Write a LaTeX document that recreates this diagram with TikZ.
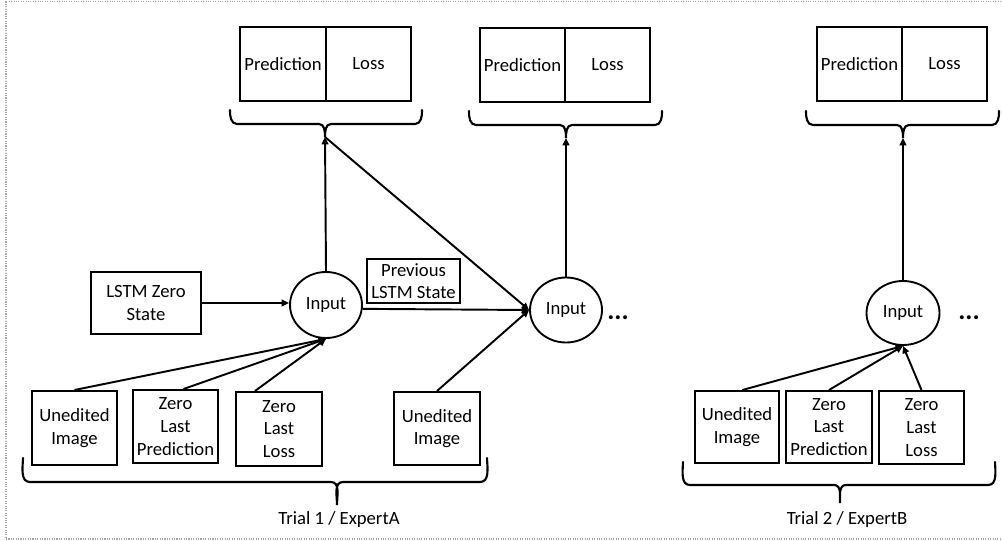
\documentclass[tikz,border=0pt]{standalone}
\usepackage{fontspec}
\setmainfont{Carlito}
\usetikzlibrary{arrows.meta,shapes.geometric}
\tikzset{
  px/.style={x=0.75pt,y=-0.75pt},
  box/.style={draw,line width=1.5pt,inner sep=0pt,align=center,font=\fontsize{14}{17}\selectfont},
  inp/.style={draw,ellipse,line width=1.4pt,inner sep=0pt,font=\fontsize{14}{17}\selectfont},
  arr/.style={line width=1.45pt,-{Triangle[length=5.5pt,width=5pt]}},
  brc/.style={line width=1.6pt,line cap=round},
  lbl/.style={font=\fontsize{14}{17}\selectfont,inner sep=0pt},
  dots/.style={font=\fontsize{20}{20}\selectfont\bfseries,inner sep=0pt},
}
\newcommand\bx[6]{\node[box,minimum width=#4*0.75pt,minimum height=#5*0.75pt] (#1) at (#2,#3) {#6};}
\newcommand\mybrace[7]{%
  \draw[brc] (#1,#3) to[out=-92,in=180] (#1+7,#4) -- (#5-6,#4) to[out=0,in=90] (#5,#6)
     to[out=90,in=180] (#5+6,#4) -- (#2-7,#4) to[out=0,in=-88] (#2,#3);
  \coordinate (#7) at (#5,#6);}
\begin{document}
\begin{tikzpicture}[px]
\useasboundingbox (0,0) rectangle (1002,541);
\draw[gray!70,densely dotted,line width=0.8pt] (6,1.5) rectangle (1010,539);

% top prediction/loss boxes
\bx{p1}{283}{64}{86}{74}{Prediction}
\bx{l1}{368.5}{64}{85}{74}{Loss}
\bx{p2}{522.5}{65}{85}{74}{Prediction}
\bx{l2}{607.5}{65}{85}{74}{Loss}
\bx{p3}{859.5}{64}{85}{74}{Prediction}
\bx{l3}{944.5}{64}{85}{74}{Loss}

% top braces
\mybrace{230}{422}{110}{124}{325}{137}{t1}
\mybrace{469}{662}{111}{125}{566}{138}{t2}
\mybrace{806}{999}{111}{125}{903}{138}{t3}

% input nodes
\node[inp,minimum width=72*0.75pt,minimum height=66*0.75pt] (in1) at (326,305) {Input};
\node[inp,minimum width=72*0.75pt,minimum height=65*0.75pt] (in2) at (566,310) {Input};
\node[inp,minimum width=73*0.75pt,minimum height=64*0.75pt] (in3) at (903,313) {Input};

\node[dots] (d1) at (618,318) {...};
\node[dots] (d2) at (969,318) {...};

% side boxes
\bx{lstm}{146}{303}{110}{62}{LSTM Zero\\State}
\bx{prev}{413.5}{281}{93}{44}{Previous\\LSTM State}

% bottom boxes
\bx{ui1}{74.5}{428}{85}{74}{Unedited\\Image}
\bx{zp1}{175.5}{426.5}{85}{73}{Zero\\Last\\Prediction}
\bx{zl1}{279}{429}{86}{74}{Zero\\Last\\Loss}
\bx{ui2}{437}{428.5}{86}{73}{Unedited\\Image}
\bx{ui3}{737}{427}{84}{72}{Unedited\\Image}
\bx{zp3}{829}{427}{86}{72}{Zero\\Last\\Prediction}
\bx{zl3}{921.5}{427.5}{85}{73}{Zero\\Last\\Loss}

% bottom braces
\mybrace{23}{487}{458}{482}{337}{505}{b1}
\mybrace{683}{995}{462}{485}{840}{503}{b2}
\node[lbl] (tr1) at (339,520) {Trial 1 / ExpertA};
\node[lbl] (tr2) at (847,520) {Trial 2 / ExpertB};

% connectors
\draw[arr] (lstm.east) -- (lstm.east -| in1.west);
\draw[arr] (in1.-6) -- (in2.west);
\draw[arr] (in1.north) -- (t1);
\draw[arr] (t1) -- (in2.west);
\draw[arr] (in2.north) -- (t2);
\draw[arr] (in3.north) -- (t3);
\draw[arr] (ui1.north) -- (in1.south);
\draw[arr] ([xshift=6pt]zp1.north) -- (in1.south);
\draw[arr] ([xshift=-18pt]zl1.north) -- (in1.south);
\draw[arr] (ui2.north) -- (in2.west);
\draw[arr] ([xshift=4pt]ui3.north) -- (in3.south);
\draw[arr] (zp3.north) -- (in3.south);
\draw[arr] (zl3.north) -- (in3.south);
\end{tikzpicture}
\end{document}
